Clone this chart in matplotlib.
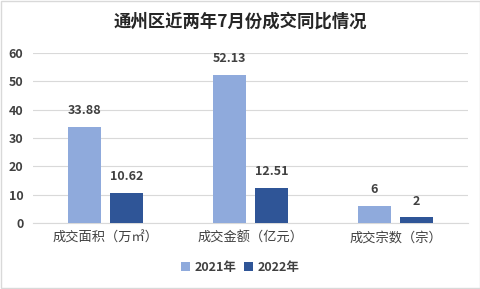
import matplotlib
matplotlib.use("Agg")
import matplotlib.pyplot as plt
import numpy as np

plt.rcParams['font.family'] = ['Noto Sans CJK SC', 'DejaVu Sans']

categories = ['成交面积（万㎡）', '成交金额（亿元）', '成交宗数（宗）']
series_names = ['2021年', '2022年']
v2021 = [33.88, 52.13, 6]
v2022 = [10.62, 12.51, 2]
labels2021 = ['33.88', '52.13', '6']
labels2022 = ['10.62', '12.51', '2']
yticks = [0, 10, 20, 30, 40, 50, 60]

c2021 = '#8FAADC'
c2022 = '#2F5597'
tc = '#404040'

fig = plt.figure(figsize=(4.81, 2.89), dpi=100)
ax = fig.add_axes([0.069, 0.228, 0.904, 0.589])

x = np.arange(len(categories))
w = 0.23
off = 0.145
b1 = ax.bar(x - off, v2021, w, color=c2021, label=series_names[0], zorder=3)
b2 = ax.bar(x + off, v2022, w, color=c2022, label=series_names[1], zorder=3)

for rects, labs in ((b1, labels2021), (b2, labels2022)):
    for r, l in zip(rects, labs):
        ax.annotate(l, (r.get_x() + r.get_width() / 2, r.get_height()),
                    xytext=(0, 7), textcoords='offset points', ha='center', va='bottom',
                    fontsize=9, fontweight='bold', color=tc)

ax.set_xlim(-0.5, 2.5)
ax.set_ylim(0, 60)
ax.set_yticks(yticks)
ax.set_yticklabels([str(t) for t in yticks], fontsize=9, fontweight='bold', color=tc)
ax.set_xticks(x)
ax.set_xticklabels(categories, fontsize=9.5, color=tc)
ax.tick_params(axis='x', length=0, pad=6)
ax.tick_params(axis='y', length=0, pad=7)
ax.grid(axis='y', color='#D9D9D9', linewidth=0.8, zorder=0)
for s in ax.spines.values():
    s.set_visible(False)
ax.spines['bottom'].set_visible(True)
ax.spines['bottom'].set_color('#D9D9D9')

fig.text(0.5, 0.925, '通州区近两年7月份成交同比情况', ha='center', va='center',
         fontsize=12.5, fontweight='bold', color='#262626')

leg = fig.legend(loc='center', bbox_to_anchor=(0.5, 0.075), ncol=2, frameon=False,
                 fontsize=9, handlelength=0.7, handleheight=0.7, handletextpad=0.4,
                 columnspacing=0.6)
for t in leg.get_texts():
    t.set_color(tc)
    t.set_fontweight('bold')

fig.patches.append(plt.Rectangle((0.002, 0.003), 0.996, 0.994, transform=fig.transFigure,
                                 fill=False, edgecolor='#D9D9D9', linewidth=1))

fig.savefig('out.png', dpi=100)
